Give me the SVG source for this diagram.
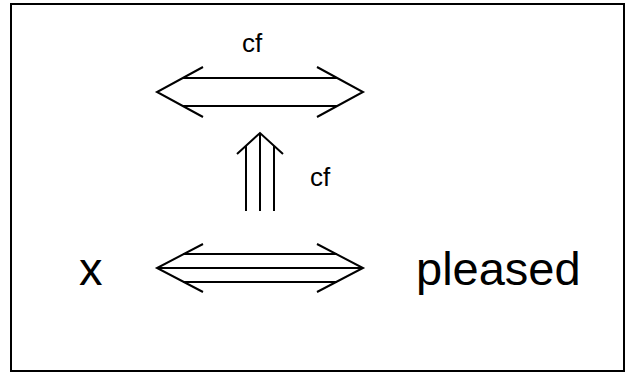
<svg xmlns="http://www.w3.org/2000/svg" width="626" height="373" viewBox="0 0 626 373">
<style>
.ln{fill:none;stroke:#000;stroke-width:2;stroke-linecap:butt;stroke-linejoin:miter}
.t{font-family:"Liberation Sans",Arial,sans-serif;fill:#000}
</style>
<rect x="0" y="0" width="626" height="373" fill="#fff"/>
<rect x="11" y="4" width="613" height="367" fill="none" stroke="#000" stroke-width="2"/>
<g id="node-x"><text class="t" x="79" y="285" font-size="47">x</text></g>
<g id="node-pleased"><text class="t" x="416" y="285" font-size="47">pleased</text></g>
<g id="connectors">
  <g id="top-arrow">
    <polyline class="ln" points="203,67 157,92 203,117"/>
    <polyline class="ln" points="317,67 363,92 317,117"/>
    <line class="ln" x1="183" y1="78" x2="337" y2="78"/>
    <line class="ln" x1="183" y1="106" x2="337" y2="106"/>
    <text class="t" x="252" y="52" font-size="26" text-anchor="middle">cf</text>
  </g>
  <g id="up-arrow">
    <polyline class="ln" points="237,154 260,133 283,154"/>
    <line class="ln" x1="260" y1="133" x2="260" y2="211"/>
    <line class="ln" x1="246" y1="146" x2="246" y2="211"/>
    <line class="ln" x1="274" y1="146" x2="274" y2="211"/>
    <text class="t" x="310" y="186" font-size="26">cf</text>
  </g>
  <g id="bottom-arrow">
    <polyline class="ln" points="203,244 157,268 203,292"/>
    <polyline class="ln" points="317,244 363,268 317,292"/>
    <line class="ln" x1="157" y1="268" x2="363" y2="268"/>
    <line class="ln" x1="183" y1="254" x2="337" y2="254"/>
    <line class="ln" x1="183" y1="282" x2="337" y2="282"/>
  </g>
</g>
</svg>
